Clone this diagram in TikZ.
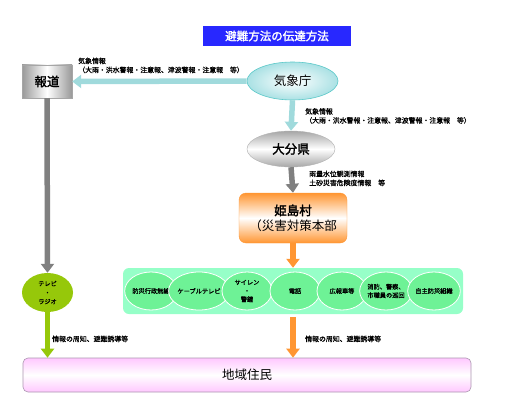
\documentclass[tikz,border=0pt]{standalone}
\usepackage{fontspec}
\setmainfont{Noto Sans CJK JP}[AutoFakeBold=2]
\newfontfamily\lblfont{Noto Sans CJK JP}[FakeBold=0.8]
\usetikzlibrary{arrows.meta,shapes.geometric}
\definecolor{titleblue}{RGB}{40,40,255}
\definecolor{cyanarr}{RGB}{160,218,220}
\definecolor{cyanedge}{RGB}{90,200,200}
\definecolor{cyanfill}{RGB}{170,225,228}
\definecolor{grayarr}{RGB}{128,128,128}
\definecolor{orangearr}{RGB}{255,150,50}
\definecolor{mint}{RGB}{150,255,200}
\definecolor{leaf}{RGB}{110,242,150}
\definecolor{yg}{RGB}{150,200,10}
\definecolor{pinkc}{RGB}{255,200,255}
\definecolor{pinkedge}{RGB}{170,150,175}
\tikzset{
  lbl/.style={font=\lblfont\fontsize{6.9}{9}\selectfont, anchor=north west, align=left, inner sep=0pt},
  fat/.style={line width=5.5pt, -{Triangle[width=13pt,length=9pt]}},
  leafnode/.style={ellipse, fill=leaf, draw=white, line width=0.8pt, minimum width=50pt, minimum height=38pt, inner sep=0pt, align=center, font=\lblfont\fontsize{6.2}{8.5}\selectfont},
}
\begin{document}
\begin{tikzpicture}[x=1pt,y=-1pt]
\useasboundingbox (0,0) rectangle (505,417);
% title
\node[fill=titleblue, text=white, minimum width=148pt, minimum height=20pt, inner sep=0pt, font=\fontsize{11.5}{12}\selectfont\bfseries] (title) at (277,36) {避難方法の伝達方法};
% nodes
\node[rectangle, draw=gray!70, left color=gray!80, right color=gray!80, middle color=white, minimum width=50pt, minimum height=33pt, inner sep=0pt, font=\fontsize{12.5}{13}\selectfont\bfseries] (hodo) at (47,81.5) {報道};
\node[ellipse, draw=cyanedge, line width=0.6pt, inner color=white, outer color=cyanfill, minimum width=91pt, minimum height=38pt, inner sep=0pt, font=\fontsize{12.5}{13}\selectfont] (kisho) at (292.5,81) {気象庁};
\node[ellipse, draw=gray!60, top color=gray!70, bottom color=gray!70, middle color=white, minimum width=88pt, minimum height=36pt, inner sep=0pt, font=\fontsize{12.5}{13}\selectfont\bfseries] (oita) at (291,149) {大分県};
\node[rectangle, rounded corners=7pt, draw=orangearr, top color=orangearr, bottom color=orangearr, middle color=white, minimum width=108pt, minimum height=50pt, inner sep=0pt, align=center, font=\fontsize{12.5}{15}\selectfont] (hime) at (293,218) {\textbf{姫島村}\\（災害対策本部};
\node[rectangle, rounded corners=6pt, fill=mint, minimum width=340pt, minimum height=46pt, inner sep=0pt] (grp) at (293,291) {};
\node[leafnode] (e1) at (151,291) {防災行政無線};
\node[leafnode] (e2) at (199,291) {ケーブルテレビ};
\node[leafnode] (e3) at (247,291) {サイレン\\・\\警鐘};
\node[leafnode] (e4) at (295,291) {電話};
\node[leafnode] (e5) at (342,291) {広報車等};
\node[leafnode] (e6) at (386,291) {消防、警察、\\市職員の巡回};
\node[leafnode] (e7) at (434,291) {自主防災組織};
\node[ellipse, fill=yg, minimum width=51pt, minimum height=39pt, inner sep=0pt, align=center, font=\lblfont\fontsize{6.2}{9}\selectfont] (tv) at (47.5,292.5) {テレビ\\・\\ラジオ};
\node[rectangle, rounded corners=5pt, draw=pinkedge, line width=0.6pt, top color=pinkc, bottom color=pinkc, middle color=white, minimum width=448pt, minimum height=34pt, inner sep=0pt, font=\fontsize{12.5}{13}\selectfont] (jumin) at (247,375) {地域住民};
% connectors
\draw[fat, cyanarr] (kisho.west) -- (hodo.east);
\draw[fat, cyanarr] (kisho.south) -- (oita.north);
\draw[fat, grayarr] (oita.south) -- (hime.north);
\draw[fat, orangearr] (hime.south) -- (hime.south |- grp.north);
\draw[fat, grayarr] (hodo.south) -- (tv.north);
\draw[fat, yg] (tv.south) -- (tv.south |- jumin.north);
\draw[fat, orangearr, shorten <=3pt] (grp.south) -- (grp.south |- jumin.north);
% labels
\node[lbl] (l1) at (78,57.5) {気象情報\\（大雨・洪水警報・注意報、津波警報・注意報　等）};
\node[lbl] (l2) at (305,108) {気象情報\\（大雨・洪水警報・注意報、津波警報・注意報　等）};
\node[lbl] (l3) at (309,170.5) {雨量水位観測情報\\土砂災害危険度情報　等};
\node[lbl] (l4) at (52,335.5) {情報の周知、避難誘導等};
\node[lbl] (l5) at (305,335.5) {情報の周知、避難誘導等};
\end{tikzpicture}
\end{document}
